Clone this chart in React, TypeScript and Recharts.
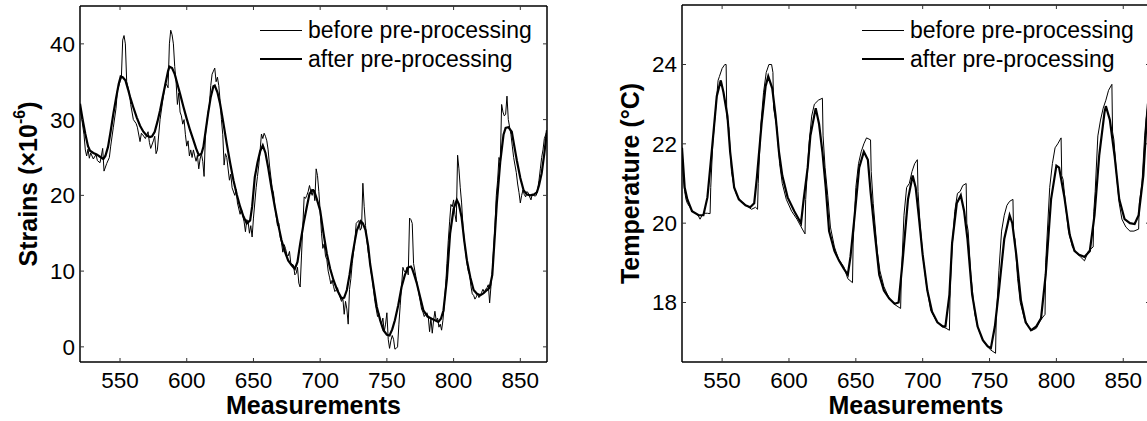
import React from 'react';
import { LineChart, Line, XAxis, YAxis, Legend } from 'recharts';

type Pt = [number, number];

const FONT = '"Liberation Sans", Arial, sans-serif';

const measurementDomain = [520, 870];
const measurementTicks = [550, 600, 650, 700, 750, 800, 850];
const strainDomain = [-2, 45];
const strainTicks = [0, 10, 20, 30, 40];
const tempDomain = [16.5, 25.5];
const tempTicks = [18, 20, 22, 24];

const legendItems = [
  { name: 'before pre-processing', width: 1 },
  { name: 'after pre-processing', width: 2.2 },
];

// strains, raw readings
const strainRaw: Pt[] = [
  [520, 31.8], [521, 30.5], [523, 28], [524, 26], [525, 25.2], [526, 26.1], [527, 24.9], [528, 25.6], [530, 24.8],
  [532, 25.4], [533, 24.6], [535, 24.3], [536, 25.2], [537, 26.2], [538, 23.2], [540, 24.2], [542, 25], [543, 26.5],
  [545, 29], [547, 31.5], [548, 33.8], [550, 35], [551, 35.5], [552, 40.5], [553, 41.1], [554, 40], [555, 35],
  [557, 33.5], [558, 32], [560, 30], [562, 29.5], [563, 29], [565, 27.1], [566, 28.2], [567, 28], [569, 27.5],
  [571, 28.4], [572, 27], [573, 26.2], [575, 27.2], [576, 27.8], [577, 25.5], [578, 26], [580, 30], [582, 32.5],
  [583, 33.6], [584, 34.8], [585, 34.6], [586, 34.2], [587, 40], [588, 41.8], [589, 41.2], [590, 40], [591, 37],
  [592, 35], [593, 32], [594, 33.5], [595, 31], [596, 30.5], [597, 29.4], [598, 30], [599, 28], [600, 26.5],
  [601, 27.2], [602, 25.2], [603, 26], [604, 25], [605, 26], [606, 25.2], [607, 24.5], [608, 25.3], [609, 23.5],
  [610, 24.8], [611, 25.5], [612, 24.5], [613, 22.5], [614, 28], [616, 31], [617, 32], [618, 34.5], [619, 36],
  [620, 36.4], [621, 36.8], [622, 35], [623, 35.6], [624, 34.5], [625, 32.5], [626, 30], [627, 28], [628, 24],
  [629, 25.5], [630, 25], [632, 22], [633, 22.8], [634, 21], [636, 20], [637, 20.8], [638, 19], [640, 17.5],
  [641, 18.2], [642, 17.3], [643, 16.5], [644, 15.2], [645, 16.8], [646, 16.5], [647, 15], [648, 16], [649, 14.5],
  [650, 17], [652, 21], [653, 22.5], [654, 24], [655, 26], [656, 28.1], [657, 27.5], [658, 28.2], [659, 27.8],
  [660, 27.2], [661, 26], [662, 24], [664, 21], [665, 20.3], [666, 18.6], [668, 16], [669, 16.3], [670, 14.5],
  [671, 13.8], [672, 12.5], [673, 13.5], [674, 13], [675, 12.2], [676, 12], [677, 12.6], [678, 11], [680, 10.8],
  [681, 9.5], [682, 9.7], [683, 10.5], [684, 8.4], [685, 7.9], [686, 12], [687, 16], [688, 19.8], [689, 19.6],
  [690, 20], [691, 20.5], [692, 21.3], [693, 20.5], [694, 20], [695, 20.8], [696, 19.3], [697, 23.5], [698, 22.6],
  [699, 20.5], [700, 18], [701, 15], [702, 13], [703, 13.6], [704, 12], [705, 11.5], [706, 10], [707, 9.2],
  [708, 8.3], [709, 8.8], [710, 8], [711, 7.3], [712, 7.5], [713, 7.8], [714, 7], [715, 6.5], [716, 6], [717, 6.4],
  [718, 4.3], [719, 6], [720, 5], [721, 3], [722, 7.6], [723, 9], [724, 11], [725, 12.5], [726, 14], [727, 16.3],
  [728, 16.5], [729, 16.7], [730, 15.4], [731, 15.7], [732, 21.6], [733, 18.5], [734, 16], [735, 14], [736, 12.5],
  [737, 11.6], [738, 10], [739, 9], [740, 7.5], [741, 6], [742, 5], [743, 4], [744, 4.4], [745, 3.5], [746, 3],
  [747, 3.8], [748, 2], [749, 3], [750, 4.5], [751, 1], [752, -0.2], [753, 0.8], [754, 1.5], [755, 1], [756, -0.3],
  [757, -0.2], [758, 0], [759, 3], [760, 5.5], [761, 8], [762, 10.5], [763, 10], [764, 9.8], [765, 10.5], [766, 9.5],
  [767, 17], [768, 16.8], [769, 16.3], [770, 11], [771, 10], [772, 9], [773, 8], [774, 7], [775, 6], [776, 5],
  [777, 4.6], [778, 4], [779, 4.3], [780, 4.5], [781, 4], [782, 2], [783, 3.8], [784, 1.8], [785, 3.5], [786, 4.7],
  [787, 3.4], [788, 3.8], [789, 2.6], [790, 3], [791, 2.2], [792, 3.5], [793, 5.5], [794, 8], [795, 11], [796, 14],
  [797, 16.5], [798, 18.8], [799, 18.5], [800, 19.4], [801, 17.5], [802, 16.5], [803, 25.3], [804, 23.5], [805, 21],
  [806, 19], [807, 16], [808, 14], [809, 12.5], [810, 11], [811, 10], [812, 9.5], [813, 8], [814, 7], [815, 6.8],
  [816, 6.3], [817, 6.6], [818, 7], [819, 6.5], [820, 6.8], [821, 7.2], [822, 7.6], [823, 7.2], [824, 7.6],
  [825, 7.8], [826, 8.2], [827, 5.8], [828, 8], [829, 10], [830, 13], [831, 16], [832, 20], [833, 22], [834, 25],
  [835, 24.5], [836, 32], [837, 31], [838, 30.5], [839, 30.7], [840, 33.1], [841, 30], [842, 29], [843, 28],
  [844, 26.5], [845, 25], [846, 24], [847, 23], [848, 21.5], [849, 20.4], [850, 19], [851, 20], [852, 20.7],
  [853, 20.1], [854, 19.8], [855, 20.5], [856, 20.3], [857, 19.8], [858, 19.4], [859, 20.2], [860, 20], [861, 19.9],
  [862, 20], [863, 20.8], [864, 22], [865, 23.5], [866, 25], [867, 26], [868, 27.5], [869, 28], [870, 28.5],
];

// strains, smoothed
const strainSmooth: Pt[] = [
  [520, 32.1], [522, 30], [524, 28.1], [526, 26.5], [527.5, 25.9], [530, 25.6], [532.5, 25.4], [535, 25.1],
  [537.5, 24.8], [539, 25.2], [541, 26.4], [543, 28.5], [545, 30.8], [547, 32.8], [549, 34.7], [550.5, 35.7],
  [552, 35.6], [554, 35.2], [556, 34], [557.5, 33], [560, 31.6], [562.5, 30.3], [565, 29.2], [567.5, 28.4],
  [570, 27.9], [572.5, 27.7], [574, 27.8], [576, 28.4], [578, 29.7], [580, 31.2], [582, 33], [584, 34.7],
  [586, 36.4], [587, 37], [589, 36.8], [591, 36], [593, 34.7], [595, 33.4], [597.5, 31.7], [600, 30.1],
  [602.5, 28.6], [605, 27.3], [607, 26.2], [609, 25.3], [611, 25.5], [612.5, 26.4], [614, 28.3], [616, 30.8],
  [618, 33], [620, 34.4], [621, 34.5], [623, 33.6], [625, 32.1], [627.5, 29.5], [630, 26.8], [632.5, 24.3],
  [635, 22], [637.5, 20.1], [640, 18.5], [642.5, 17.2], [645, 16.3], [647.5, 16.7], [649, 18.5], [651, 22.4],
  [653, 24.3], [655, 25.8], [657, 26.6], [659, 25.6], [661, 23.7], [663.5, 21], [666, 18.5], [668.5, 16.2],
  [671, 14.1], [673.5, 12.6], [676, 11.4], [678.5, 10.8], [681, 10.3], [683, 11.2], [685, 13.6], [687.5, 16.2],
  [690, 18.5], [692, 20.2], [694, 20.7], [695.5, 20.6], [697.5, 19.5], [700, 18], [702.5, 15], [705, 12.3],
  [707.5, 10.3], [710, 8.8], [713, 7.4], [716, 6.4], [718, 6.5], [720, 7.5], [722, 9.5], [724, 11.9], [726, 14],
  [727.5, 15.4], [730.4, 16.6], [732, 16.3], [734, 15.4], [736, 13.3], [737.4, 11], [740, 8], [742.4, 5.3],
  [745, 3.5], [747.4, 2.2], [750, 1.6], [752, 1.5], [754, 2.3], [756, 3.5], [758.5, 5.5], [761, 7.9],
  [763.5, 9.5], [766, 10.5], [768, 10.6], [769, 10.3], [770.5, 9.5], [772.4, 8.4], [775, 6.5], [777.4, 4.8],
  [780.5, 4], [783.6, 3.7], [786, 3.5], [788.6, 3.3], [790.5, 3.7], [792.4, 4.8], [795, 9], [797.4, 15],
  [800, 18.2], [802.4, 19.4], [804, 18.8], [806, 17.1], [808, 14], [810, 11.4], [812.5, 9.2], [815, 7.5],
  [817.5, 7], [820, 6.8], [822.5, 7.1], [825, 7.5], [827, 7.8], [829, 9.5], [831, 15], [832.4, 19], [835, 24.5],
  [837.4, 28], [839, 28.9], [841, 29], [843.6, 28.4], [845.5, 26.5], [847.4, 24.6], [850, 22.3], [852.4, 20.7],
  [855, 20.1], [857.4, 20], [860, 20.1], [862.4, 20.4], [864, 21.3], [866, 22.9], [868, 25.5], [870, 28.6],
];

// temperature, raw readings
const tempRaw: Pt[] = [
  [520, 21.9], [521, 21.2], [522, 20.8], [523, 20.6], [524, 20.5], [526, 20.4], [528, 20.3], [530, 20.25],
  [532, 20.2], [533.5, 20.1], [535, 20.2], [537, 20.25], [539, 20.25], [541, 20.24], [541.5, 20.9], [543, 22],
  [545, 22.8], [547, 23.6], [548, 23.7], [550, 23.9], [552, 24], [553, 24], [553.5, 22.7], [555, 22.4],
  [557, 21.3], [559, 20.9], [561, 20.7], [564, 20.55], [568, 20.45], [572, 20.35], [575, 20.4], [576.5, 20.35],
  [577, 21], [579, 22.5], [581, 23.3], [583, 23.8], [585, 24], [587, 24], [588, 23.8], [588.5, 22.9], [591, 22.4],
  [593, 21.5], [595, 21], [598, 20.6], [602, 20.3], [606, 20.1], [610, 19.85], [612, 19.73], [612.5, 20.6],
  [615, 22], [617, 22.7], [619, 23], [622, 23.1], [625, 23.15], [625.5, 22.2], [627, 21.4], [629, 20.7],
  [631, 19.9], [634, 19.4], [637, 19.1], [641, 18.9], [644, 18.6], [647.5, 18.5], [648, 19.5], [650, 20.9],
  [652, 21.5], [654, 21.8], [656, 22], [658, 22.15], [661, 22.1], [661.5, 21.3], [663, 20.5], [666, 19.3],
  [668, 18.8], [671, 18.4], [675, 18.1], [679, 17.95], [683.5, 17.85], [684, 18.6], [686, 20.2], [688, 20.9],
  [690, 21], [692, 21.3], [694, 21.5], [696, 21.6], [696.5, 20.8], [698, 20], [700, 19.2], [703, 18.4],
  [706, 17.8], [710, 17.55], [714, 17.4], [717.5, 17.35], [720, 17.3], [720.5, 18.3], [722, 19.4], [724, 20.3],
  [726, 20.75], [728, 20.8], [730, 20.95], [732.5, 21], [733, 20], [734, 19.8], [736, 18.7], [739, 17.7],
  [742, 17.3], [745, 17.05], [748, 16.9], [751, 16.8], [754.5, 16.72], [755, 17.6], [757, 18.8], [759, 19.8],
  [761, 20.2], [763, 20.45], [765, 20.55], [767.5, 20.6], [768, 19.7], [769, 19.6], [771, 18.6], [773, 18],
  [776, 17.6], [779, 17.4], [782, 17.3], [785, 17.35], [788, 17.55], [791.5, 17.7], [792, 19], [795, 20.9],
  [797, 21.5], [799, 21.9], [801, 22], [803.5, 22.15], [804, 21.2], [805, 21.1], [807, 20.4], [809, 19.8],
  [812, 19.4], [815, 19.25], [818, 19.15], [821, 19.05], [824, 19.3], [827.5, 19.4], [828, 20.3], [829, 20.8],
  [831, 22.2], [833, 22.6], [835, 22.9], [837, 23.1], [839, 23.35], [841.5, 23.5], [842, 22.3], [843, 22.1],
  [845, 21.2], [847, 20.5], [849, 20.1], [852, 19.9], [855, 19.8], [858, 19.8], [861.5, 19.85], [862, 20.5],
  [864, 21], [866, 22.2], [868, 23], [870, 23.4],
];

// temperature, smoothed
const tempSmooth: Pt[] = [
  [520, 21.9], [522, 20.9], [524, 20.6], [527.5, 20.3], [532.5, 20.2], [536, 20.2], [539, 20.65], [542.5, 21.9],
  [546, 23.2], [549, 23.6], [551, 23.3], [554, 22.7], [556, 21.8], [559, 20.9], [562.5, 20.6], [567.5, 20.45],
  [571, 20.4], [574, 20.5], [576, 21.15], [579.5, 22.5], [582.5, 23.45], [584.5, 23.7], [587.5, 23.4], [590, 22.7],
  [592.5, 21.8], [595, 21.2], [599, 20.65], [604, 20.3], [609, 20], [611, 20.6], [614, 21.4], [616, 22.2],
  [620, 22.9], [622.5, 22.5], [625, 21.8], [627.5, 20.9], [630, 19.8], [634, 19.3], [637.5, 19.05], [641, 18.85],
  [644, 18.7], [646, 19.15], [649, 20.15], [652.5, 21.4], [656, 21.8], [659, 21.6], [661, 20.8], [664, 19.8],
  [667.5, 18.7], [671, 18.3], [675, 18.1], [679, 17.97], [682, 18], [685, 19.05], [689, 20.6], [692.5, 21.2],
  [694.75, 20.9], [697, 20.2], [700, 19.2], [703.5, 18.3], [707, 17.77], [711, 17.5], [715, 17.4], [717, 17.4],
  [720, 18.2], [722, 19.5], [725.5, 20.5], [728.5, 20.7], [731, 20.3], [733.5, 19.6], [737, 18.2], [741, 17.4],
  [745, 17.05], [748.5, 16.9], [751, 16.85], [754, 17.4], [757, 18.3], [761, 19.6], [765, 20.2], [767, 20],
  [770, 19.2], [773.5, 18.05], [777, 17.5], [781, 17.3], [785, 17.4], [788.5, 17.6], [792, 18.7], [796, 20.6],
  [800, 21.45], [802, 21.4], [806, 20.65], [810, 19.7], [813.5, 19.3], [817, 19.2], [821, 19.15], [825, 19.3],
  [828.5, 20.2], [832, 21.7], [836, 22.8], [837, 22.95], [840, 22.6], [843.5, 21.7], [847, 20.6], [851, 20.1],
  [855, 20], [858.5, 19.98], [861.5, 20.2], [865, 21.2], [867.5, 22.6], [870, 23.3],
];

const toRows = (pts: Pt[]) => pts.map(([x, y]) => ({ x, y }));

const tickStyle = { fill: '#000', fontSize: 22.5, fontFamily: FONT };
const frame = { stroke: '#000', strokeWidth: 1.5 };
const tickMark = { stroke: '#333', strokeWidth: 1 };
const noLabel = () => '';

const LegendBox = () => (
  <div style={{ fontFamily: FONT, fontSize: 23, color: '#000' }}>
    {legendItems.map((item) => (
      <div key={item.name} style={{ display: 'flex', alignItems: 'center', height: 29, lineHeight: '29px', whiteSpace: 'nowrap' }}>
        <span style={{ display: 'inline-block', width: 42, borderTop: `${item.width}px solid #000`, marginRight: 6 }} />
        <span>{item.name}</span>
      </div>
    ))}
  </div>
);

const xLabel = (props: any) => {
  const vb = props.viewBox;
  return (
    <text x={vb.x + vb.width / 2} y={vb.y + 43} textAnchor="middle" dominantBaseline="central"
      fontFamily={FONT} fontWeight="bold" fontSize={25} fill="#000">
      Measurements
    </text>
  );
};

const yLabel = (content: React.ReactNode, cx: number) => (props: any) => {
  const vb = props.viewBox;
  const x = vb.x + cx;
  const y = vb.y + vb.height / 2;
  return (
    <text x={x} y={y} transform={`rotate(-90 ${x} ${y})`} textAnchor="middle" dominantBaseline="central"
      fontFamily={FONT} fontWeight="bold" fontSize={25} fill="#000">
      {content}
    </text>
  );
};

interface PanelProps {
  raw: Pt[];
  smooth: Pt[];
  yDomain: number[];
  yTicks: number[];
  label: React.ReactNode;
  labelX: number;
  left: number;
  width: number;
  axisWidth: number;
  top: number;
  right: number;
  legendLeft: number;
}

// the top and right frame axes are 1px deep: a zero-size axis is not drawn
const Panel = ({ raw, smooth, yDomain, yTicks, label, labelX, left, width, axisWidth, top, right, legendLeft }: PanelProps) => (
  <div style={{ position: 'absolute', left, top: 0 }}>
    <LineChart width={width} height={421} margin={{ top, right, bottom: 0, left: 0 }}>
      <XAxis xAxisId="b" type="number" dataKey="x" domain={measurementDomain} ticks={measurementTicks}
        allowDataOverflow height={59} tick={tickStyle} tickSize={-4} tickMargin={14}
        axisLine={frame} tickLine={tickMark} label={xLabel} />
      <XAxis xAxisId="t" orientation="top" type="number" dataKey="x" domain={measurementDomain}
        ticks={measurementTicks} allowDataOverflow height={1} tick={tickStyle} tickFormatter={noLabel}
        tickSize={-4} axisLine={frame} tickLine={tickMark} />
      <YAxis yAxisId="l" type="number" domain={yDomain} ticks={yTicks} allowDataOverflow width={axisWidth}
        tick={tickStyle} tickSize={-4} tickMargin={9} axisLine={frame} tickLine={tickMark}
        label={yLabel(label, labelX)} />
      <YAxis yAxisId="r" orientation="right" type="number" domain={yDomain} ticks={yTicks} allowDataOverflow
        width={1} tick={tickStyle} tickFormatter={noLabel} tickSize={-4} axisLine={frame} tickLine={tickMark} />
      <Legend layout="vertical" align="center" verticalAlign="middle" content={() => <LegendBox />}
        wrapperStyle={{ left: legendLeft, top: 15.5, width: 'auto', height: 'auto' }} />
      <Line xAxisId="t" yAxisId="r" data={toRows(smooth)} dataKey="y" type="linear" stroke="none"
        dot={false} isAnimationActive={false} legendType="none" />
      <Line xAxisId="b" yAxisId="l" data={toRows(raw)} dataKey="y" type="linear" stroke="#000"
        strokeWidth={1} dot={false} isAnimationActive={false} legendType="none" />
      <Line xAxisId="b" yAxisId="l" data={toRows(smooth)} dataKey="y" type="linear" stroke="#000"
        strokeWidth={2.2} dot={false} isAnimationActive={false} legendType="none" />
    </LineChart>
  </div>
);

export default function App() {
  return (
    <div style={{ position: 'absolute', left: 0, top: 0, width: 1147, height: 421, overflow: 'hidden', background: '#fff' }}>
      <Panel raw={strainRaw} smooth={strainSmooth} yDomain={strainDomain} yTicks={strainTicks}
        label={<>Strains (×10<tspan dy={-9} fontSize={16}>-6</tspan><tspan dy={9}>)</tspan></>}
        labelX={27.5} left={0} width={573} axisWidth={80} top={5} right={25} legendLeft={260} />
      <Panel raw={tempRaw} smooth={tempSmooth} yDomain={tempDomain} yTicks={tempTicks}
        label="Temperature (°C)" labelX={57} left={573} width={578} axisWidth={109} top={4} right={0}
        legendLeft={289} />
    </div>
  );
}
